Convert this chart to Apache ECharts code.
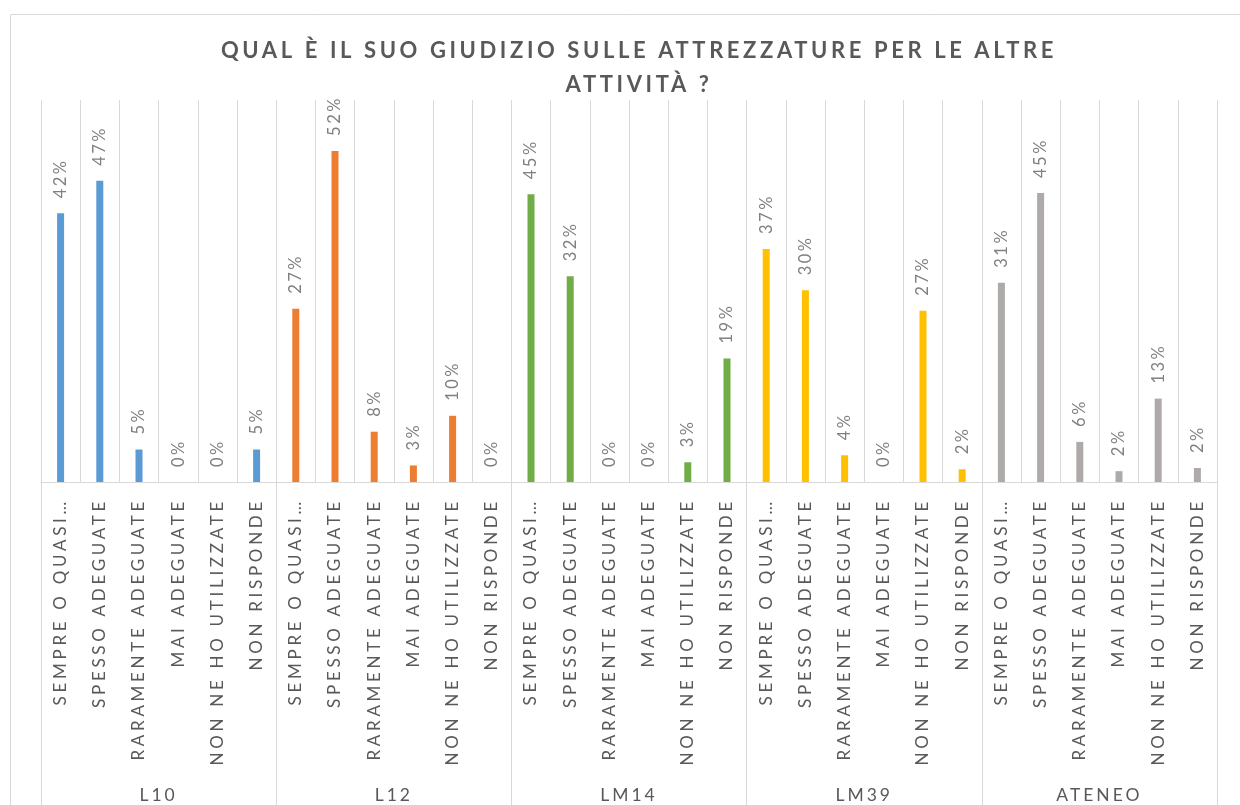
<!DOCTYPE html>
<html lang="it">
<head>
<meta charset="UTF-8">
<title>Giudizio attrezzature</title>
<style>
html, body { margin: 0; padding: 0; background: #fff; }
#main { width: 1240px; height: 805px; }
</style>
</head>
<body>
<div id="main"></div>
<script src="https://cdn.jsdelivr.net/npm/echarts@6/dist/echarts.min.js"></script>
<script>
var groups = ['L10', 'L12', 'LM14', 'LM39', 'ATENEO'];
var answers = ['SEMPRE O QUASI SEMPRE ADEGUATE', 'SPESSO ADEGUATE', 'RARAMENTE ADEGUATE',
               'MAI ADEGUATE', 'NON NE HO UTILIZZATE', 'NON RISPONDE'];
// percentuali per corso, stesso ordine di answers
var valL10    = [42.2, 47.3, 5.1, 0, 0, 5.1];
var valL12    = [27.2, 52.0, 7.9, 2.6, 10.4, 0];
var valLM14   = [45.2, 32.3, 0, 0, 3.1, 19.4];
var valLM39   = [36.6, 30.1, 4.2, 0, 26.9, 2.0];
var valAteneo = [31.3, 45.4, 6.3, 1.7, 13.1, 2.2];
var colors = ['#5B9BD5', '#ED7D31', '#70AD47', '#FFC000', '#AEAAAA'];

// Excel spaziatura lettere: canvas letterSpacing scelto dalla dimensione del font
var spacingBySize = { '22': '3.6px', '17': '3.7px', '16.5': '2.5px', '17.5': '3px' };
var fillText = CanvasRenderingContext2D.prototype.fillText;
CanvasRenderingContext2D.prototype.fillText = function () {
    var m = /([\d.]+)px/.exec(this.font);
    this.letterSpacing = (m && spacingBySize[m[1]]) || '0px';
    return fillText.apply(this, arguments);
};

var allValues = [valL10, valL12, valLM14, valLM39, valAteneo];
var categories = [];
groups.forEach(function () { categories = categories.concat(answers); });

var series = groups.map(function (g, gi) {
    var data = [];
    allValues.forEach(function (vals, vi) {
        vals.forEach(function (v) { data.push(vi === gi ? v : '-'); });
    });
    return {
        name: g,
        type: 'bar',
        barWidth: 7,
        barGap: '-100%',
        itemStyle: { color: colors[gi] },
        label: {
            show: true,
            position: 'top',
            rotate: 90,
            align: 'left',
            verticalAlign: 'middle',
            distance: 15,
            color: '#808080',
            fontFamily: 'Lato',
            fontSize: 16.5,
            formatter: function (p) { return Math.round(p.value) + '%'; }
        },
        data: data
    };
});

var myChart = echarts.init(document.getElementById('main'));
var option = {
    animation: false,
    title: {
        text: 'QUAL È IL SUO GIUDIZIO SULLE ATTREZZATURE PER LE ALTRE\nATTIVITÀ ?',
        left: 634,
        top: 29,
        textAlign: 'center',
        textStyle: {
            fontFamily: 'Lato',
            fontSize: 22,
            fontWeight: 'bold',
            color: '#595959',
            lineHeight: 34
        }
    },
    graphic: [{
        type: 'rect',
        left: 8,
        top: 12,
        z: -1,
        shape: { width: 1250, height: 810 },
        style: { fill: 'none', stroke: '#D9D9D9', lineWidth: 1 }
    }],
    grid: { left: 41, right: 23, top: 100, bottom: 323, outerBoundsMode: 'none' },
    xAxis: [{
        type: 'category',
        data: categories,
        axisLine: { lineStyle: { color: '#D9D9D9' } },
        axisTick: { show: false },
        splitLine: { show: true, interval: 0, lineStyle: { color: '#D9D9D9' } },
        axisLabel: {
            interval: 0,
            rotate: 90,
            margin: 16,
            color: '#595959',
            fontFamily: 'Lato',
            fontSize: 17,
            formatter: function (v) { return v.length > 20 ? v.slice(0, 14) + '…' : v; }
        }
    }, {
        type: 'category',
        position: 'bottom',
        data: groups,
        axisLine: { show: false },
        axisTick: { show: true, length: 330, interval: 0, lineStyle: { color: '#D9D9D9' } },
        axisLabel: {
            interval: 0,
            margin: 304,
            color: '#595959',
            fontFamily: 'Lato',
            fontSize: 17.5
        }
    }],
    yAxis: { type: 'value', min: 0, max: 60, show: false, splitLine: { show: false } },
    series: series
};
myChart.setOption(option);
</script>
</body>
</html>
